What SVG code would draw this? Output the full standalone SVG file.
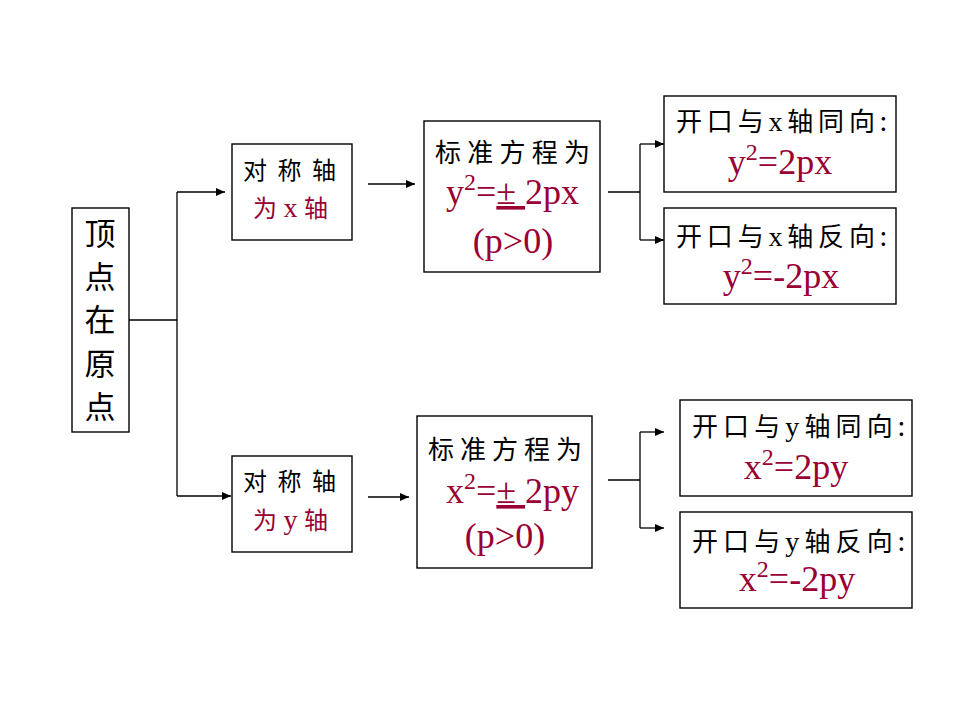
<svg xmlns="http://www.w3.org/2000/svg" width="960" height="720" viewBox="0 0 960 720">
<defs>
<marker id="ah" markerUnits="userSpaceOnUse" markerWidth="10" markerHeight="8" refX="9" refY="4" orient="auto">
<path d="M0,0 L9,4 L0,8 z" fill="#000"/>
</marker>
<style>
.box{fill:#fff;stroke:#000;stroke-width:1.4}
.ln{fill:none;stroke:#000;stroke-width:1.3}
.cn{font-family:"Noto Sans CJK SC","Liberation Serif",sans-serif;fill:#000}
.rd{font-family:"Liberation Serif","Noto Sans CJK SC",serif;fill:#990033}
.lx{font-family:"Liberation Serif",serif;font-size:28px}
.f{font-family:"Liberation Serif",serif;fill:#990033;font-size:36px}
.u{text-decoration:underline}
.v{font-size:31px;text-anchor:middle}
</style>
</defs>
<rect width="960" height="720" fill="#fff"/>
<g id="connectors">
<path class="ln" d="M129,320 H177 M177,192 V496 M608,192 H640 M640,144 V240 M608,480 H640 M640,432 V528"/>
<path class="ln" marker-end="url(#ah)" d="M177,192 H225"/>
<path class="ln" marker-end="url(#ah)" d="M177,496 H231"/>
<path class="ln" marker-end="url(#ah)" d="M368,184 H415"/>
<path class="ln" marker-end="url(#ah)" d="M368,497 H409"/>
<path class="ln" marker-end="url(#ah)" d="M640,144 H664"/>
<path class="ln" marker-end="url(#ah)" d="M640,240 H664"/>
<path class="ln" marker-end="url(#ah)" d="M640,432 H664"/>
<path class="ln" marker-end="url(#ah)" d="M640,528 H664"/>
</g>
<g id="root">
<rect class="box" x="72" y="208" width="57" height="224"/>
<text class="cn v" x="100" y="245">顶</text>
<text class="cn v" x="100" y="288">点</text>
<text class="cn v" x="100" y="331">在</text>
<text class="cn v" x="100" y="375">原</text>
<text class="cn v" x="100" y="418">点</text>
</g>
<g id="axis-x">
<rect class="box" x="232" y="144" width="120" height="96"/>
<text class="cn" font-size="24" x="243" y="179" textLength="93" lengthAdjust="spacing">对称轴</text>
<text class="rd" font-size="24" x="253" y="217" textLength="75" lengthAdjust="spacing">为<tspan font-size="28">x</tspan>轴</text>
</g>
<g id="axis-y">
<rect class="box" x="232" y="456" width="120" height="96"/>
<text class="cn" font-size="24" x="243" y="490" textLength="93" lengthAdjust="spacing">对称轴</text>
<text class="rd" font-size="24" x="253" y="529" textLength="75" lengthAdjust="spacing">为<tspan font-size="28">y</tspan>轴</text>
</g>
<g id="std-x">
<rect class="box" x="424" y="121" width="176" height="151"/>
<text class="cn" font-size="26" x="435" y="162" textLength="155" lengthAdjust="spacing">标准方程为</text>
<text class="f" x="446" y="204">y<tspan font-size="24" dy="-14">2</tspan><tspan dy="14">=</tspan><tspan class="u">± </tspan>2px</text>
<text class="f" x="513" y="253" text-anchor="middle">(p&gt;0)</text>
</g>
<g id="std-y">
<rect class="box" x="417" y="416" width="175" height="152"/>
<text class="cn" font-size="26" x="428" y="459" textLength="154" lengthAdjust="spacing">标准方程为</text>
<text class="f" x="446" y="503">x<tspan font-size="24" dy="-14">2</tspan><tspan dy="14">=</tspan><tspan class="u">± </tspan>2py</text>
<text class="f" x="505" y="548" text-anchor="middle">(p&gt;0)</text>
</g>
<g id="x-pos">
<rect class="box" x="664" y="96" width="232" height="96"/>
<text class="cn" font-size="26" x="676" y="131" textLength="211" lengthAdjust="spacing">开口与<tspan class="lx">x</tspan>轴同向:</text>
<text class="f" x="780" y="174" text-anchor="middle">y<tspan font-size="24" dy="-14">2</tspan><tspan dy="14">=2px</tspan></text>
</g>
<g id="x-neg">
<rect class="box" x="664" y="208" width="232" height="96"/>
<text class="cn" font-size="26" x="676" y="246" textLength="211" lengthAdjust="spacing">开口与<tspan class="lx">x</tspan>轴反向:</text>
<text class="f" x="781" y="288" text-anchor="middle">y<tspan font-size="24" dy="-14">2</tspan><tspan dy="14">=-2px</tspan></text>
</g>
<g id="y-pos">
<rect class="box" x="680" y="400" width="232" height="96"/>
<text class="cn" font-size="26" x="692" y="436" textLength="213" lengthAdjust="spacing">开口与<tspan class="lx">y</tspan>轴同向:</text>
<text class="f" x="796" y="479" text-anchor="middle">x<tspan font-size="24" dy="-14">2</tspan><tspan dy="14">=2py</tspan></text>
</g>
<g id="y-neg">
<rect class="box" x="680" y="512" width="232" height="96"/>
<text class="cn" font-size="26" x="692" y="551" textLength="213" lengthAdjust="spacing">开口与<tspan class="lx">y</tspan>轴反向:</text>
<text class="f" x="797" y="591" text-anchor="middle">x<tspan font-size="24" dy="-14">2</tspan><tspan dy="14">=-2py</tspan></text>
</g>
</svg>
